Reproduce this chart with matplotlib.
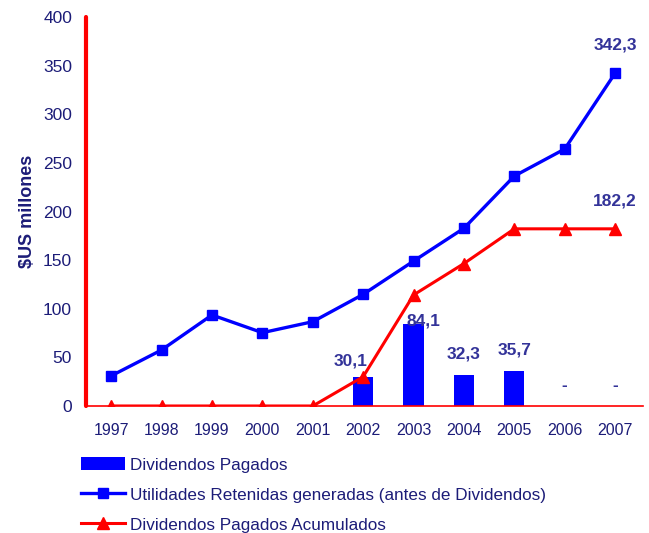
import numpy as np
import matplotlib.pyplot as plt

plt.rcParams['font.family'] = ['Liberation Sans', 'DejaVu Sans']

# ==============================================================================
years = ['1997', '1998', '1999', '2000', '2001', '2002', '2003', '2004', '2005', '2006', '2007']
dividendos = [0, 0, 0, 0, 0, 30.1, 84.1, 32.3, 35.7, 0, 0]
utilidades = [31, 57.6, 93.6, 75.4, 86.7, 114.8, 149, 182.8, 236.5, 264.3, 342.3]
acumulados = [0, 0, 0, 0, 0, 30.1, 114.2, 146.5, 182.2, 182.2, 182.2]

bar_labels = ['', '', '', '', '', '30,1', '84,1', '32,3', '35,7', '-', '-']

navy = '#1c1c78'
lab = '#333399'

# ==============================================================================
fig = plt.figure(figsize=(6.49, 5.33), dpi=100)
ax = fig.add_axes([0.1325, 0.2383, 0.858, 0.7297])

x = np.arange(len(years))
b = ax.bar(x, dividendos, width=0.4, color='#0000ff', label='Dividendos Pagados', zorder=2)
l1, = ax.plot(x, utilidades, color='#0000ff', lw=2.4, marker='s', ms=7,
              label='Utilidades Retenidas generadas (antes de Dividendos)', zorder=3)
l2, = ax.plot(x, acumulados, color='#ff0000', lw=2.2, marker='^', ms=8.5,
              label='Dividendos Pagados Acumulados', zorder=4)

# bar value labels (offsets in points)
offsets = {5: (-9, 11.5), 6: (7, 2), 7: (0, 15), 8: (0, 15), 9: (0, 14.5), 10: (0, 14.5)}
for i, t in enumerate(bar_labels):
    if not t:
        continue
    dx, dy = offsets.get(i, (0, 12))
    ax.annotate(t, (x[i], dividendos[i]), xytext=(dx, dy), textcoords='offset points',
                ha='center', va='center', fontsize=12.5, fontweight='bold', color=lab, zorder=5)

ax.annotate('342,3', (x[-1], utilidades[-1]), xytext=(0, 20), textcoords='offset points',
            ha='center', va='center', fontsize=12.5, fontweight='bold', color=lab)
ax.annotate('182,2', (x[-1], acumulados[-1]), xytext=(0, 20), textcoords='offset points',
            ha='center', va='center', fontsize=12.5, fontweight='bold', color=lab)

ax.set_xlim(-0.5, len(years) - 0.45)
ax.set_ylim(0, 400)
ax.set_yticks(range(0, 401, 50))
ax.set_xticks(x)
ax.set_xticklabels(years)
ax.tick_params(axis='both', length=0, labelcolor=navy)
ax.tick_params(axis='y', pad=10, labelsize=12.5)
ax.tick_params(axis='x', pad=12, labelsize=11.5)
ax.set_ylabel('$US millones', fontsize=13, fontweight='bold', color=navy, labelpad=5)

for s in ['top', 'right']:
    ax.spines[s].set_visible(False)
ax.spines['left'].set_color('#ff0000')
ax.spines['left'].set_linewidth(3)
ax.spines['left'].set_capstyle('round')
ax.spines['bottom'].set_color('#ff0000')
ax.spines['bottom'].set_linewidth(1.2)

leg = fig.legend([b, l1, l2], [b.get_label(), l1.get_label(), l2.get_label()],
                 loc='upper left', bbox_to_anchor=(0.115, 0.155), frameon=False,
                 fontsize=12.3, handlelength=2.55, handleheight=0.8, handletextpad=0.3,
                 labelspacing=0.85, borderaxespad=0)
for t in leg.get_texts():
    t.set_color(navy)

plt.savefig('out.png', dpi=100)
